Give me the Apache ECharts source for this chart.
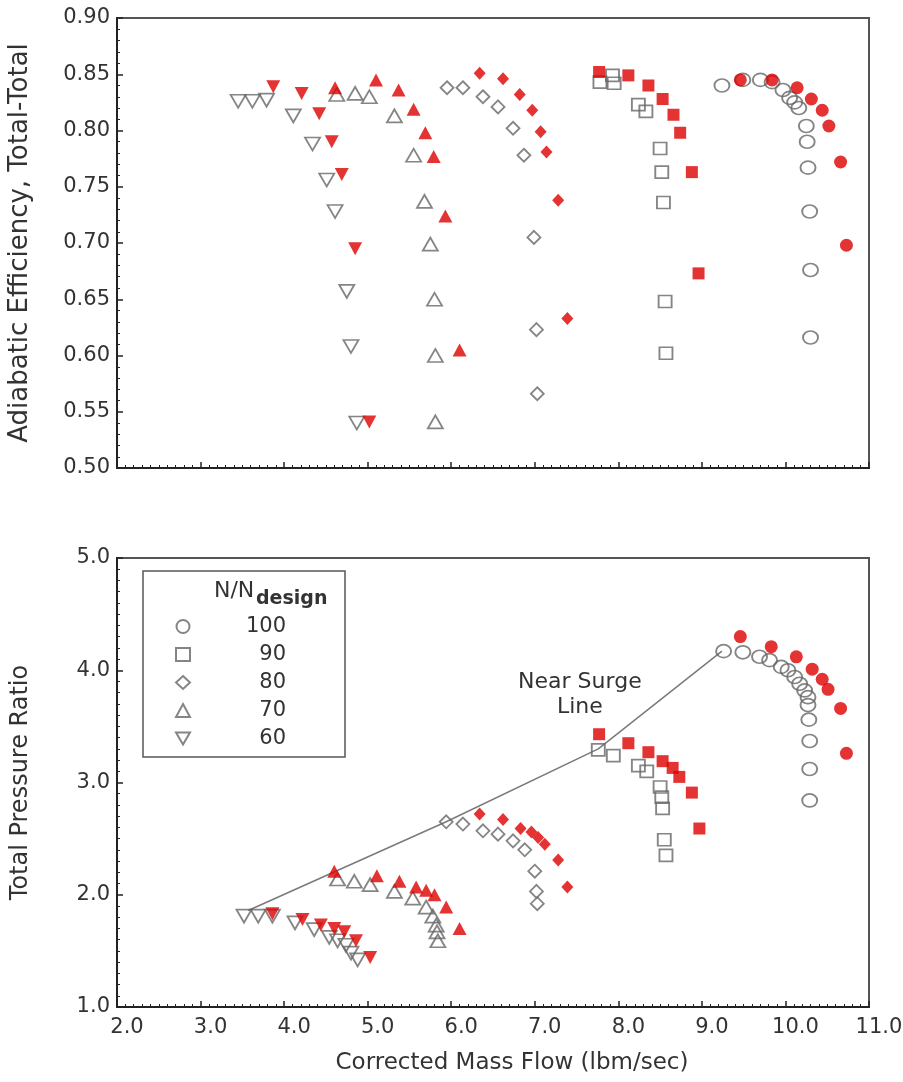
<!DOCTYPE html>
<html>
<head>
<meta charset="utf-8">
<title>Compressor map</title>
<script src="https://cdn.jsdelivr.net/npm/echarts@6/dist/echarts.min.js"></script>
<style>
  html, body { margin: 0; padding: 0; background: #fff; }
  #chart { width: 903px; height: 1082px; }
</style>
</head>
<body>
<div id="chart"></div>
<script>
// speed lines, N/Ndesign in percent
var speeds = ['100', '90', '80', '70', '60'];
var xTicks = [2, 3, 4, 5, 6, 7, 8, 9, 10, 11];

// adiabatic efficiency vs corrected mass flow (open = gray, red = filled)
var eff100Open = [[9.24,0.840],[9.49,0.845],[9.70,0.845],[9.84,0.843],[9.97,0.836],[10.05,0.829],[10.11,0.825],[10.16,0.820],[10.25,0.804],[10.26,0.790],[10.27,0.767],[10.29,0.728],[10.30,0.676],[10.30,0.616]];
var eff100Red = [[9.46,0.845],[9.84,0.845],[10.14,0.838],[10.31,0.828],[10.44,0.818],[10.52,0.804],[10.66,0.772],[10.73,0.698]];
var eff90Open = [[7.78,0.843],[7.93,0.849],[7.95,0.842],[8.24,0.823],[8.33,0.817],[8.50,0.784],[8.52,0.763],[8.54,0.736],[8.56,0.648],[8.57,0.602]];
var eff90Red = [[7.77,0.852],[8.12,0.849],[8.36,0.840],[8.53,0.828],[8.66,0.814],[8.74,0.798],[8.88,0.763],[8.96,0.673]];
var eff80Open = [[5.95,0.838],[6.14,0.838],[6.38,0.830],[6.56,0.821],[6.74,0.802],[6.87,0.778],[6.99,0.705],[7.02,0.623],[7.03,0.566]];
var eff80Red = [[6.34,0.851],[6.62,0.846],[6.82,0.832],[6.97,0.818],[7.07,0.799],[7.14,0.781],[7.28,0.738],[7.39,0.633]];
var eff70Open = [[4.63,0.832],[4.85,0.833],[5.02,0.830],[5.32,0.813],[5.55,0.778],[5.68,0.737],[5.75,0.699],[5.80,0.650],[5.81,0.600],[5.81,0.541]];
var eff70Red = [[4.61,0.838],[5.10,0.845],[5.37,0.836],[5.55,0.819],[5.69,0.798],[5.79,0.777],[5.93,0.724],[6.10,0.605]];
var eff60Open = [[3.45,0.826],[3.62,0.826],[3.79,0.827],[4.11,0.813],[4.34,0.788],[4.51,0.756],[4.61,0.728],[4.75,0.657],[4.80,0.608],[4.87,0.540]];
var eff60Red = [[3.87,0.839],[4.21,0.833],[4.42,0.815],[4.57,0.790],[4.69,0.761],[4.85,0.695],[5.02,0.541]];

// total pressure ratio vs corrected mass flow
var pr100Open = [[9.26,4.17],[9.49,4.16],[9.69,4.12],[9.81,4.09],[9.95,4.03],[10.03,4.00],[10.11,3.94],[10.17,3.88],[10.23,3.82],[10.27,3.76],[10.27,3.69],[10.28,3.56],[10.29,3.37],[10.29,3.12],[10.29,2.84]];
var pr100Red = [[9.46,4.30],[9.83,4.21],[10.13,4.12],[10.32,4.01],[10.44,3.92],[10.51,3.83],[10.66,3.66],[10.73,3.26]];
var pr90Open = [[7.76,3.29],[7.94,3.24],[8.24,3.15],[8.34,3.10],[8.50,2.96],[8.52,2.87],[8.53,2.77],[8.55,2.49],[8.57,2.35]];
var pr90Red = [[7.77,3.43],[8.12,3.35],[8.36,3.27],[8.53,3.19],[8.65,3.13],[8.73,3.05],[8.88,2.91],[8.97,2.59]];
var pr80Open = [[5.94,2.65],[6.14,2.63],[6.38,2.57],[6.56,2.54],[6.74,2.48],[6.88,2.40],[7.00,2.21],[7.02,2.03],[7.03,1.92]];
var pr80Red = [[6.34,2.72],[6.62,2.67],[6.83,2.59],[6.96,2.56],[7.04,2.51],[7.12,2.45],[7.28,2.31],[7.39,2.07]];
var pr70Open = [[4.64,2.14],[4.84,2.12],[5.03,2.09],[5.32,2.03],[5.54,1.97],[5.70,1.89],[5.78,1.81],[5.82,1.73],[5.83,1.67],[5.84,1.59]];
var pr70Red = [[4.60,2.21],[5.11,2.17],[5.38,2.12],[5.58,2.07],[5.70,2.04],[5.80,2.00],[5.94,1.89],[6.10,1.70]];
var pr60Open = [[3.52,1.81],[3.69,1.81],[3.86,1.81],[4.13,1.75],[4.36,1.69],[4.54,1.62],[4.64,1.59],[4.74,1.55],[4.80,1.48],[4.88,1.42]];
var pr60Red = [[3.86,1.83],[4.22,1.78],[4.44,1.73],[4.60,1.70],[4.72,1.67],[4.86,1.59],[5.03,1.44]];

// near surge line through the surge points
var surgeLine = [[3.57,1.86],[5.94,2.65],[7.76,3.30],[9.24,4.17]];
var surgeLabelAt = [7.54, 3.78];

var FONT = '"DejaVu Sans", "Liberation Sans", Arial, sans-serif';
var GRAY = '#666';
var RED = '#dd0000';
var TEXT = '#333';
var DOWN_TRIANGLE = 'path://M0,0 L10,0 L5,8.66 Z';

// marker look per speed line
var shapes = {
  '100': { symbol: 'circle', open: [15, 13], filled: [13, 13] },
  '90': { symbol: 'rect', open: [13, 12], filled: [12, 12] },
  '80': { symbol: 'diamond', open: [13, 13], filled: [12, 13] },
  '70': { symbol: 'triangle', open: [15, 13], filled: [14, 13] },
  '60': { symbol: DOWN_TRIANGLE, open: [15, 13], filled: [14, 13] }
};

function openSeries(speed, data, idx) {
  var s = shapes[speed];
  return {
    name: speed,
    type: 'scatter',
    xAxisIndex: idx,
    yAxisIndex: idx,
    symbol: s.symbol,
    symbolSize: s.open,
    itemStyle: { color: 'rgba(255,255,255,0)', borderColor: GRAY, borderWidth: 1.8 },
    emphasis: { disabled: true },
    z: 3,
    data: data
  };
}

function redSeries(speed, data, idx) {
  var s = shapes[speed];
  return {
    name: speed + ' red',
    type: 'scatter',
    xAxisIndex: idx,
    yAxisIndex: idx,
    symbol: s.symbol,
    symbolSize: s.filled,
    itemStyle: { color: RED },
    emphasis: { disabled: true },
    z: 4,
    data: data
  };
}

function xAxisFor(idx, showLabels) {
  return {
    type: 'value',
    gridIndex: idx,
    min: xTicks[0],
    max: xTicks[xTicks.length - 1],
    interval: 1,
    axisLine: { show: true, onZero: false, lineStyle: { color: '#222', width: 2 } },
    axisTick: { show: true, inside: true, length: 6, lineStyle: { color: '#222', width: 1.5 } },
    minorTick: { show: true, splitNumber: 10, length: 3, lineStyle: { color: '#222', width: 1 } },
    splitLine: { show: false },
    axisLabel: {
      show: showLabels,
      margin: 10,
      padding: [0, 0, 0, 20],
      fontSize: 21,
      fontFamily: FONT,
      color: TEXT,
      formatter: function (v) { return v.toFixed(1); }
    },
    name: showLabels ? 'Corrected Mass Flow (lbm/sec)' : '',
    nameLocation: 'middle',
    nameGap: 45,
    nameTextStyle: { fontSize: 23, fontFamily: FONT, color: TEXT, padding: [0, 0, 0, 38] }
  };
}

var option = {
  animation: false,
  backgroundColor: '#fff',
  grid: [
    { left: 117, top: 18, width: 752, height: 450, show: true, borderColor: '#555', borderWidth: 2, outerBoundsMode: 'none' },
    { left: 117, top: 558, width: 752, height: 449, show: true, borderColor: '#555', borderWidth: 2, outerBoundsMode: 'none' }
  ],
  xAxis: [xAxisFor(0, false), xAxisFor(1, true)],
  yAxis: [
    {
      type: 'value',
      gridIndex: 0,
      min: 0.5,
      max: 0.9,
      interval: 0.05,
      axisLine: { show: true, onZero: false, lineStyle: { color: '#222', width: 2 } },
      axisTick: { show: true, inside: true, length: 6, lineStyle: { color: '#222', width: 1.5 } },
      minorTick: { show: true, splitNumber: 5, length: 3, lineStyle: { color: '#222', width: 1 } },
      splitLine: { show: false },
      axisLabel: {
        margin: 7, fontSize: 21, fontFamily: FONT, color: TEXT,
        formatter: function (v) { return v.toFixed(2); }
      },
      name: 'Adiabatic Efficiency, Total-Total',
      nameLocation: 'middle',
      nameRotate: 90,
      nameGap: 84,
      nameTextStyle: { fontSize: 26, fontFamily: FONT, color: TEXT }
    },
    {
      type: 'value',
      gridIndex: 1,
      min: 1,
      max: 5,
      interval: 1,
      axisLine: { show: true, onZero: false, lineStyle: { color: '#222', width: 2 } },
      axisTick: { show: true, inside: true, length: 6, lineStyle: { color: '#222', width: 1.5 } },
      minorTick: { show: true, splitNumber: 10, length: 3, lineStyle: { color: '#222', width: 1 } },
      splitLine: { show: false },
      axisLabel: {
        margin: 7, fontSize: 21, fontFamily: FONT, color: TEXT,
        formatter: function (v) { return v.toFixed(1); }
      },
      name: 'Total Pressure Ratio',
      nameLocation: 'middle',
      nameRotate: 90,
      nameGap: 84,
      nameTextStyle: { fontSize: 24, fontFamily: FONT, color: TEXT }
    }
  ],
  legend: {
    data: speeds,
    orient: 'vertical',
    left: 170,
    top: 611,
    itemWidth: 14,
    itemHeight: 13,
    itemGap: 7,
    selectedMode: false,
    formatter: '{v|{name}}',
    textStyle: {
      fontSize: 21,
      fontFamily: FONT,
      color: TEXT,
      rich: { v: { width: 91, align: 'right', fontSize: 21, fontFamily: FONT, color: TEXT, lineHeight: 22 } }
    }
  },
  graphic: [
    {
      type: 'rect',
      shape: { x: 143, y: 571, width: 202, height: 186 },
      style: { fill: 'none', stroke: '#555', lineWidth: 1.5 },
      z: 1
    },
    {
      type: 'text',
      x: 214, y: 591,
      style: { text: 'N/N', fontSize: 22, fontFamily: FONT, fill: TEXT, verticalAlign: 'middle' }
    },
    {
      type: 'text',
      x: 256, y: 599,
      style: { text: 'design', fontSize: 19, fontWeight: 'bold', fontFamily: FONT, fill: TEXT, verticalAlign: 'middle' }
    }
  ],
  series: [
    openSeries('100', eff100Open, 0), openSeries('90', eff90Open, 0), openSeries('80', eff80Open, 0),
    openSeries('70', eff70Open, 0), openSeries('60', eff60Open, 0),
    redSeries('100', eff100Red, 0), redSeries('90', eff90Red, 0), redSeries('80', eff80Red, 0),
    redSeries('70', eff70Red, 0), redSeries('60', eff60Red, 0),
    {
      name: 'Near Surge Line',
      type: 'line',
      xAxisIndex: 1,
      yAxisIndex: 1,
      showSymbol: false,
      lineStyle: { color: '#7a7a7a', width: 1.5 },
      emphasis: { disabled: true },
      z: 2,
      data: surgeLine,
      markPoint: {
        symbol: 'circle',
        symbolSize: 0,
        label: {
          show: true,
          position: 'inside',
          formatter: 'Near Surge\nLine',
          fontSize: 22,
          lineHeight: 25,
          fontFamily: FONT,
          color: TEXT,
          align: 'center'
        },
        data: [{ coord: surgeLabelAt }]
      }
    },
    openSeries('100', pr100Open, 1), openSeries('90', pr90Open, 1), openSeries('80', pr80Open, 1),
    openSeries('70', pr70Open, 1), openSeries('60', pr60Open, 1),
    redSeries('100', pr100Red, 1), redSeries('90', pr90Red, 1), redSeries('80', pr80Red, 1),
    redSeries('70', pr70Red, 1), redSeries('60', pr60Red, 1)
  ]
};

var myChart = echarts.init(document.getElementById('chart'), null, { renderer: 'canvas' });
myChart.setOption(option);
</script>
</body>
</html>
